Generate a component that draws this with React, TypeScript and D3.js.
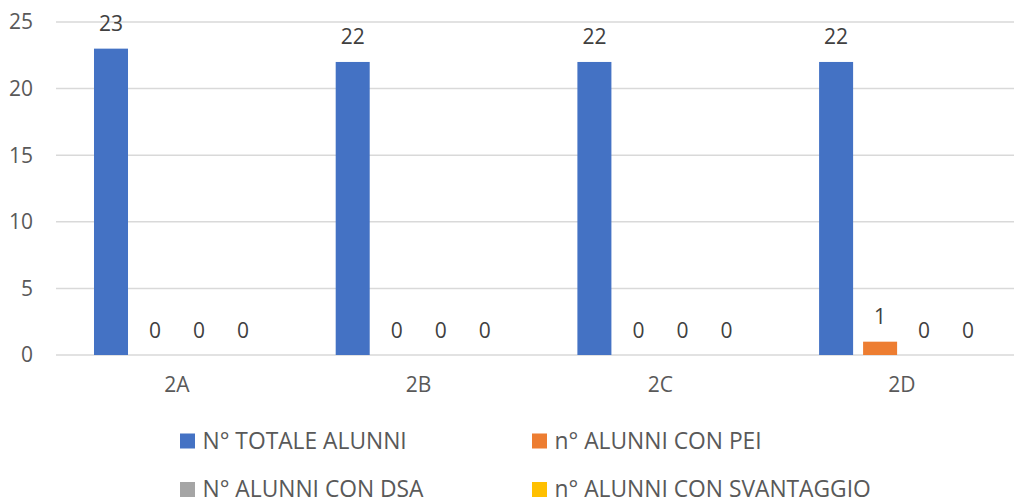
import React from "react";
import * as d3 from "d3";

const categories = ["2A", "2B", "2C", "2D"];
const seriesNames = [
  "N° TOTALE ALUNNI",
  "n° ALUNNI CON PEI",
  "N° ALUNNI CON DSA",
  "n° ALUNNI CON SVANTAGGIO",
];
const totale = [23, 22, 22, 22];
const pei = [0, 0, 0, 1];
const dsa = [0, 0, 0, 0];
const svantaggio = [0, 0, 0, 0];
const yTicks = [0, 5, 10, 15, 20, 25];
const colors = ["#4472C4", "#ED7D31", "#A5A5A5", "#FFC000"];

const W = 1014;
const H = 499;
const FONT = "'Open Sans', sans-serif";
const FS = 21;
const LFS = 22.8;

export default function App() {
  const seriesValues = [totale, pei, dsa, svantaggio];
  const x = d3.scaleBand<string>().domain(categories).range([56, 1022.8]);
  const inner = d3
    .scaleBand<string>()
    .domain(seriesNames)
    .range([33, 209])
    .paddingInner(0.227)
    .paddingOuter(0.1135);
  const y = d3.scaleLinear().domain([0, 25]).range([355, 22]);

  const legendPos = [
    { x: 180, y: 441 },
    { x: 532, y: 441 },
    { x: 180, y: 489.5 },
    { x: 532, y: 489.5 },
  ];

  return (
    <svg
      width={W}
      height={H}
      style={{ position: "absolute", left: 0, top: 0, background: "#fff" }}
      fontFamily={FONT}
    >
      {yTicks.map((t) => (
        <g key={t}>
          <line x1={56} x2={W} y1={y(t)} y2={y(t)} stroke="#D9D9D9" strokeWidth={1.5} />
          <text x={33} y={y(t)} dy="0.35em" textAnchor="end" fontSize={FS} fill="#595959">
            {t}
          </text>
        </g>
      ))}
      {categories.map((c, ci) => (
        <g key={c}>
          {seriesNames.map((s, si) => {
            const v = seriesValues[si][ci];
            const bx = (x(c) as number) + (inner(s) as number);
            const bw = inner.bandwidth();
            return (
              <g key={s}>
                {v > 0 && (
                  <rect x={bx} y={y(v)} width={bw} height={y(0) - y(v)} fill={colors[si]} />
                )}
                <text
                  x={bx + bw / 2}
                  y={y(v) - 17.5}
                  textAnchor="middle"
                  fontSize={FS}
                  fill="#404040"
                >
                  {v}
                </text>
              </g>
            );
          })}
          <text
            x={(x(c) as number) + x.bandwidth() / 2}
            y={385}
            dy="0.35em"
            textAnchor="middle"
            fontSize={FS}
            fill="#595959"
          >
            {c}
          </text>
        </g>
      ))}
      {seriesNames.map((s, si) => (
        <g key={s} transform={`translate(${legendPos[si].x},${legendPos[si].y})`}>
          <rect x={0} y={-7.5} width={15} height={15} fill={colors[si]} />
          <text x={22.5} y={0} dy="0.35em" fontSize={LFS} fill="#595959">
            {s}
          </text>
        </g>
      ))}
    </svg>
  );
}
